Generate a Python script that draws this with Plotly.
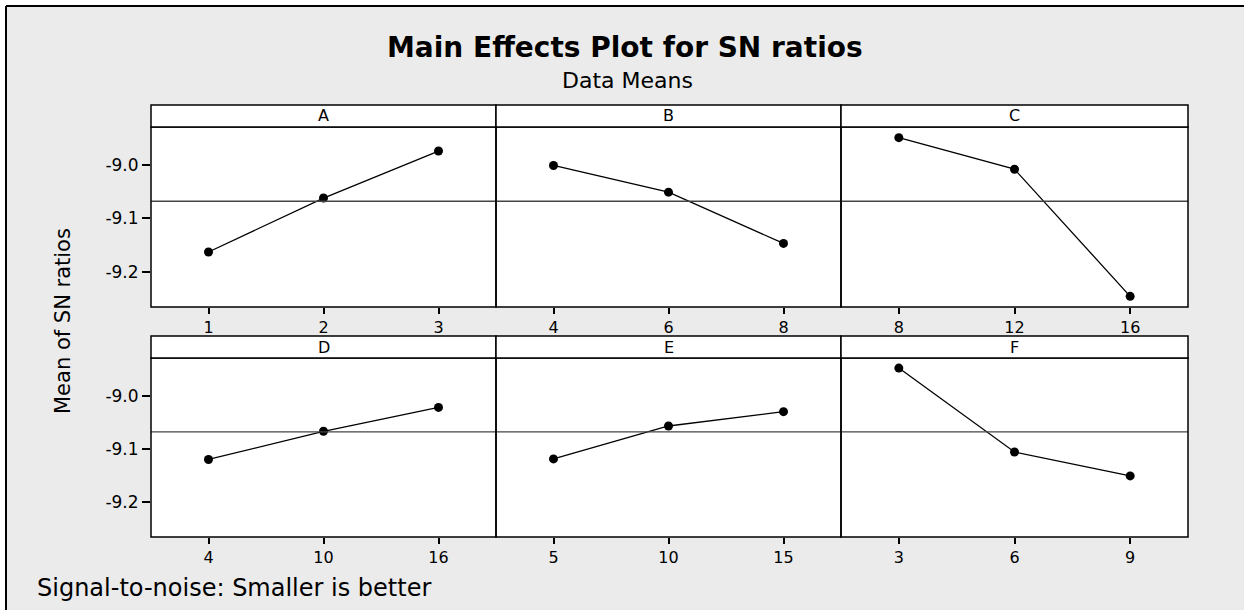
import plotly.graph_objects as go

# ---- data ----
factors = ["A", "B", "C", "D", "E", "F"]
levels_A = [1, 2, 3]
levels_B = [4, 6, 8]
levels_C = [8, 12, 16]
levels_D = [4, 10, 16]
levels_E = [5, 10, 15]
levels_F = [3, 6, 9]
sn_A = [-9.163, -9.062, -8.974]
sn_B = [-9.001, -9.051, -9.147]
sn_C = [-8.949, -9.008, -9.246]
sn_D = [-9.120, -9.067, -9.022]
sn_E = [-9.119, -9.057, -9.030]
sn_F = [-8.948, -9.106, -9.151]
grand_mean = -9.068
y_ticks = [-9.0, -9.1, -9.2]
y_ticktext = ["-9.0", "-9.1", "-9.2"]

levels = [levels_A, levels_B, levels_C, levels_D, levels_E, levels_F]
values = [sn_A, sn_B, sn_C, sn_D, sn_E, sn_F]

W, H = 1244, 610
def px(x):
    return x / W
def py(y):
    return 1 - y / H

col_edges = [(151, 496), (496, 841), (841, 1188)]
row_plot = [(127, 307), (358, 537)]
row_head = [(105, 127), (336, 358)]
yrange = [-9.266, -8.929]

fig = go.Figure()
shapes = []
annotations = []
layout_axes = {}
ytick_font = dict(family="DejaVu Sans", size=17, color="black")
xtick_font = dict(family="DejaVu Sans", size=16, color="black")

for i, f in enumerate(factors):
    r, c = divmod(i, 3)
    n = i + 1
    xs = "" if n == 1 else str(n)
    lv = levels[i]
    step = lv[1] - lv[0]
    fig.add_trace(go.Scatter(
        x=lv, y=values[i], mode="lines+markers",
        line=dict(color="black", width=1.3),
        marker=dict(color="black", size=9, symbol="circle"),
        xaxis="x" + xs, yaxis="y" + xs, showlegend=False,
        hoverinfo="x+y"))
    x0, x1 = col_edges[c]
    y0, y1 = row_plot[r]
    layout_axes["xaxis" + xs] = dict(
        domain=[px(x0), px(x1)], anchor="y" + xs,
        range=[lv[0] - step / 2, lv[-1] + step / 2],
        tickvals=lv, ticktext=[str(v) for v in lv],
        ticks="outside", ticklen=6, tickwidth=1.5, tickcolor="black",
        showline=False, showgrid=False, zeroline=False, tickfont=xtick_font)
    layout_axes["yaxis" + xs] = dict(
        domain=[py(y1), py(y0)], anchor="x" + xs, range=yrange,
        tickvals=y_ticks if c == 0 else [], ticktext=y_ticktext if c == 0 else [],
        ticks="outside" if c == 0 else "", ticklen=8, tickwidth=1.5, tickcolor="black",
        showticklabels=(c == 0),
        showline=False, showgrid=False, zeroline=False, tickfont=ytick_font)
    # reference (grand mean) line
    shapes.append(dict(type="line", xref="x" + xs + " domain", yref="y" + xs,
                       x0=0, x1=1, y0=grand_mean, y1=grand_mean,
                       line=dict(color="#444444", width=1.3)))
    # plot border
    shapes.append(dict(type="rect", xref="paper", yref="paper",
                       x0=px(x0), x1=px(x1), y0=py(y1), y1=py(y0),
                       line=dict(color="black", width=1.5)))
    # header strip
    hy0, hy1 = row_head[r]
    shapes.append(dict(type="rect", xref="paper", yref="paper",
                       x0=px(x0), x1=px(x1), y0=py(hy1), y1=py(hy0),
                       fillcolor="white", line=dict(color="black", width=1.5)))
    annotations.append(dict(text=f, xref="paper", yref="paper",
                            x=px((x0 + x1) / 2), y=py((hy0 + hy1) / 2),
                            xanchor="center", yanchor="middle", showarrow=False,
                            font=dict(family="DejaVu Sans", size=16, color="black")))

# white outside strips + frame
shapes.append(dict(type="rect", xref="paper", yref="paper", x0=0, x1=1, y0=py(6), y1=1,
                   fillcolor="white", line=dict(width=0), layer="below"))
shapes.append(dict(type="rect", xref="paper", yref="paper", x0=0, x1=px(6), y0=0, y1=1,
                   fillcolor="white", line=dict(width=0), layer="below"))
shapes.append(dict(type="line", xref="paper", yref="paper", x0=px(6), x1=1, y0=py(6), y1=py(6),
                   line=dict(color="black", width=2)))
shapes.append(dict(type="line", xref="paper", yref="paper", x0=px(6), x1=px(6), y0=0, y1=py(6),
                   line=dict(color="black", width=2)))

annotations += [
    dict(text="<b>Main Effects Plot for SN ratios</b>", xref="paper", yref="paper",
         x=px(625), y=py(47), xanchor="center", yanchor="middle", showarrow=False,
         font=dict(family="DejaVu Sans", size=28, color="black")),
    dict(text="Data Means", xref="paper", yref="paper",
         x=px(627), y=py(80), xanchor="center", yanchor="middle", showarrow=False,
         font=dict(family="DejaVu Sans", size=22, color="black")),
    dict(text="Mean of SN ratios", xref="paper", yref="paper",
         x=px(63), y=py(321), xanchor="center", yanchor="middle", showarrow=False,
         textangle=-90, font=dict(family="DejaVu Sans", size=21, color="black")),
    dict(text="Signal-to-noise: Smaller is better", xref="paper", yref="paper",
         x=px(35), y=py(588), xanchor="left", yanchor="middle", showarrow=False,
         font=dict(family="DejaVu Sans", size=24, color="black")),
]

fig.update_layout(
    width=W, height=H, margin=dict(l=0, r=0, t=0, b=0),
    paper_bgcolor="#ebebeb", plot_bgcolor="white",
    shapes=shapes, annotations=annotations, showlegend=False,
    **layout_axes)

fig.write_html("out.html", config={"displayModeBar": False},
               post_script="document.body.style.margin='0';document.body.style.padding='0';")
